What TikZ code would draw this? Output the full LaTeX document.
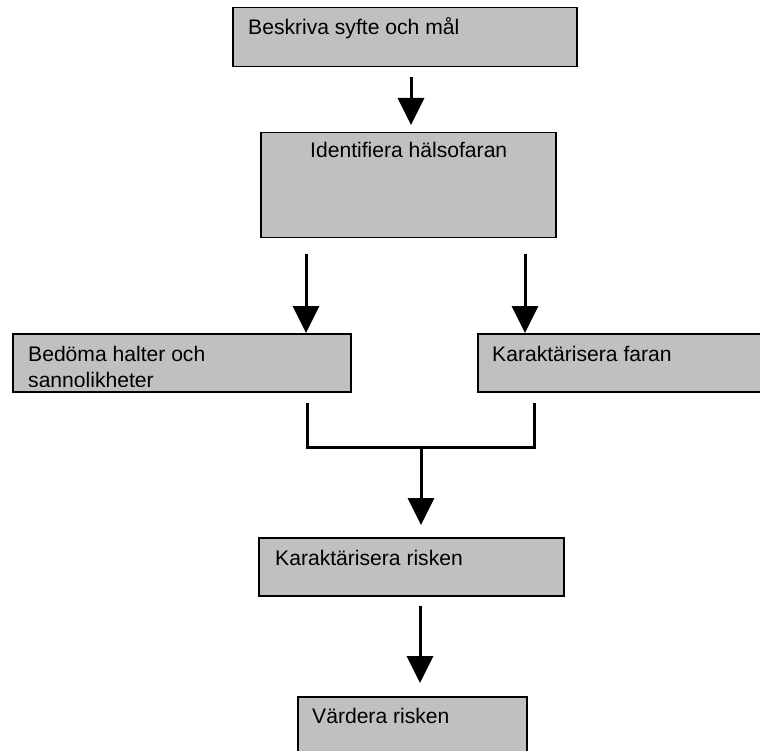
\documentclass[tikz,border=0pt]{standalone}
\usepackage{fontspec}
\setmainfont{Liberation Sans}
\usetikzlibrary{arrows.meta}
\definecolor{boxgray}{HTML}{C0C0C0}
\tikzset{
  box/.style={draw=black, fill=boxgray, line width=1.5pt, rectangle, inner sep=0pt, anchor=north west},
  txt/.style={inner sep=0pt, anchor=base west, font=\fontsize{21.1}{25.5}\selectfont, align=left},
  arr/.style={line width=3pt, -{Triangle[width=26pt,length=27pt]}},
  bracketline/.style={line width=3pt, line join=miter}
}
\begin{document}
\begin{tikzpicture}[x=1pt,y=-1pt]
\useasboundingbox (0,0) rectangle (760,751);
\clip (0,0) rectangle (760,751);
% boxes
\node[box, minimum width=344pt, minimum height=59pt] (b1) at (232,7) {};
\node[box, minimum width=295pt, minimum height=105pt] (b2) at (260,132) {};
\node[box, minimum width=338pt, minimum height=58pt] (b3) at (12,333) {};
\node[box, minimum width=320pt, minimum height=58pt] (b4) at (477,333) {};
\node[box, minimum width=305pt, minimum height=58pt] (b5) at (258,537) {};
\node[box, minimum width=229pt, minimum height=80pt] (b6) at (297,696) {};
% texts
\node[txt] (t1) at (248,35) {Beskriva syfte och mål};
\node[txt] (t2) at (310,158) {Identifiera hälsofaran};
\begin{scope}
  \clip (12,333) rectangle (350,386);
  \node[txt] (t3) at (28,387) {Bedöma halter och\\sannolikheter};
\end{scope}
\node[txt] (t4) at (492,361) {Karaktärisera faran};
\node[txt] (t5) at (275,565) {Karaktärisera risken};
\node[txt] (t6) at (312,723) {Värdera risken};
% connector coordinates
\coordinate (a1s) at (411,77);
\coordinate (a1e) at (411,125);
\coordinate (a2s) at (306,254);
\coordinate (a2e) at (306,333);
\coordinate (a3s) at (525,254);
\coordinate (a3e) at (525,333);
\coordinate (jl) at (307,403);
\coordinate (jr) at (534,403);
\coordinate (jm) at (421,447);
\coordinate (a4e) at (421,525);
\coordinate (a5s) at (420,606);
\coordinate (a5e) at (420,683);
% connectors
\draw[arr] (a1s) -- (a1e);
\draw[arr] (a2s) -- (a2e);
\draw[arr] (a3s) -- (a3e);
\draw[bracketline] (jl) |- (jm) -| (jr);
\draw[arr] (jm) -- (a4e);
\draw[arr] (a5s) -- (a5e);
\end{tikzpicture}
\end{document}
